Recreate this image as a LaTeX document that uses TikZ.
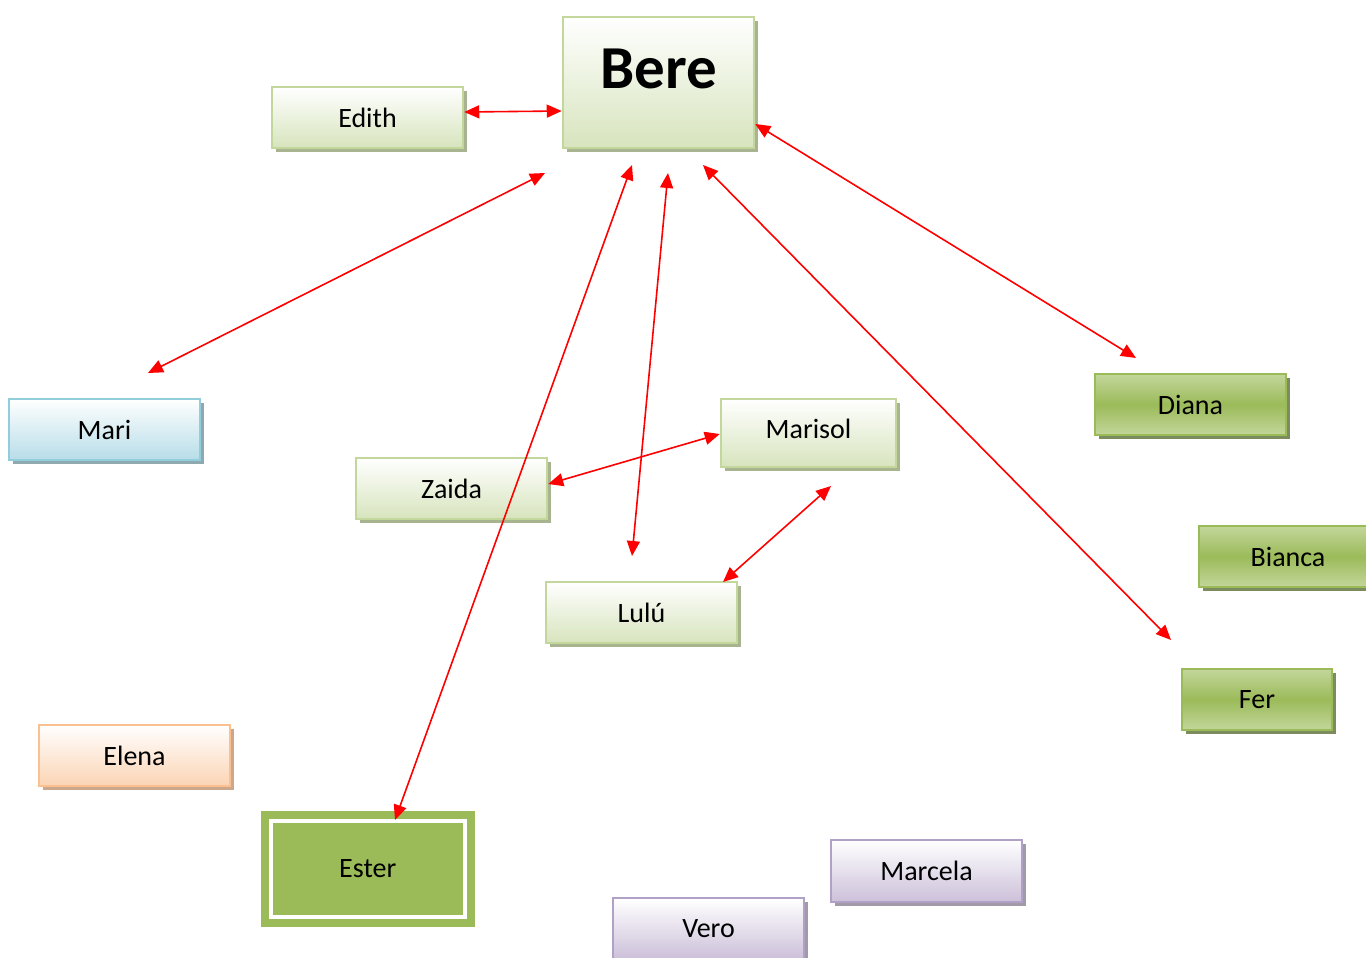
\documentclass[tikz,border=0pt]{standalone}
\usepackage{fontspec}
\setmainfont{Carlito}
\usetikzlibrary{arrows.meta,shadows}
\definecolor{verdeborde}{HTML}{C3D69B}
\definecolor{verdefondo}{HTML}{D7E4BD}
\definecolor{verdesombra}{HTML}{A8B38F}
\definecolor{verdeosc}{HTML}{9BBB59}
\definecolor{verdeoscsombra}{HTML}{7D8C5E}
\definecolor{azulborde}{HTML}{92CDDC}
\definecolor{azulfondo}{HTML}{B7DDE8}
\definecolor{azulsombra}{HTML}{8FA9B1}
\definecolor{naranjaborde}{HTML}{FAC08F}
\definecolor{naranjafondo}{HTML}{FBD4B4}
\definecolor{naranjasombra}{HTML}{CCA78C}
\definecolor{moradoborde}{HTML}{B2A1C7}
\definecolor{moradofondo}{HTML}{CCC0D9}
\definecolor{moradosombra}{HTML}{A19AA9}
\definecolor{rojo}{HTML}{FF0000}
\tikzstyle{caja}=[
	rectangle,
	line width=2.5pt,
	minimum width=191,
	minimum height=61,
	inner sep=0pt,
	font=\fontsize{28}{34}\selectfont]
\tikzstyle{claro}=[
	caja,
	draw=verdeborde,
	top color=white,
	bottom color=verdefondo,
	general shadow={fill=verdesombra,shadow xshift=4pt,shadow yshift=-4pt}]
\tikzstyle{oscuro}=[
	caja,
	draw=verdeosc,
	top color=verdeborde,
	bottom color=verdeborde,
	middle color=verdeosc,
	general shadow={fill=verdeoscsombra,shadow xshift=4pt,shadow yshift=-4pt}]
\tikzstyle{azul}=[
	caja,
	draw=azulborde,
	top color=white,
	bottom color=azulfondo,
	general shadow={fill=azulsombra,shadow xshift=4pt,shadow yshift=-4pt}]
\tikzstyle{naranja}=[
	caja,
	draw=naranjaborde,
	top color=white,
	bottom color=naranjafondo,
	general shadow={fill=naranjasombra,shadow xshift=4pt,shadow yshift=-4pt}]
\tikzstyle{morado}=[
	caja,
	draw=moradoborde,
	top color=white,
	bottom color=moradofondo,
	general shadow={fill=moradosombra,shadow xshift=4pt,shadow yshift=-4pt}]
\tikzstyle{marco}=[
	caja,
	fill=verdeosc,
	draw=white,
	line width=4pt,
	preaction={draw=verdeosc,line width=20pt}]
\tikzstyle{flecha}=[
	draw=rojo,
	line width=1.6pt,
	{Triangle[length=15pt,width=13pt]}-{Triangle[length=15pt,width=13pt]}]

\begin{document}
\begin{tikzpicture}[x=1pt,y=-1pt]
	\useasboundingbox (0,0) rectangle (1366,958);
	% cajas
	\node[claro,minimum height=131,text depth=28pt,font=\fontsize{61}{70}\selectfont\bfseries] (bere) at (658.5,82.5) {Bere};
	\node[claro] (edith) at (367.5,117.5) {Edith};
	\node[azul] (mari) at (104.5,429.5) {Mari};
	\node[claro] (zaida) at (451.5,488.5) {Zaida};
	\node[claro,minimum width=175,minimum height=68,text depth=8pt] (marisol) at (808.5,433) {Marisol};
	\node[claro] (lulu) at (641.5,612.5) {Lulú};
	\node[oscuro] (diana) at (1190.5,404.5) {Diana};
	\node[oscuro,minimum width=178] (bianca) at (1288,556.5) {Bianca};
	\node[oscuro,minimum width=150] (fer) at (1257,699.5) {Fer};
	\node[naranja] (elena) at (134.5,755.5) {Elena};
	\node[marco,minimum width=194.5,minimum height=96] (ester) at (367.75,868.5) {Ester};
	\node[morado,minimum height=62] (marcela) at (926.5,871) {Marcela};
	\node[morado] (vero) at (708.5,928.5) {Vero};
	% puntos libres
	\coordinate (b1) at (545,173);
	\coordinate (b2) at (632,165);
	\coordinate (b3) at (668,173);
	\coordinate (b4) at (703,165);
	\coordinate (mari1) at (148,373);
	\coordinate (ester1) at (395,820);
	\coordinate (lulu1) at (632,556);
	\coordinate (lulu2) at (723,582);
	\coordinate (marisol1) at (831,486);
	\coordinate (diana1) at (1136,358);
	\coordinate (fer1) at (1171,640);
	% flechas
	\draw[flecha] (edith.east |- 0,112) -- (bere.west |- 0,111);
	\draw[flecha] (b1) -- (mari1);
	\draw[flecha] (b2) -- (ester1);
	\draw[flecha] (b3) -- (lulu1);
	\draw[flecha] (b4) -- (fer1);
	\draw[flecha] (bere.east |- 0,124) -- (diana1);
	\draw[flecha] (zaida.east |- 0,484) -- (marisol.west |- 0,434);
	\draw[flecha] (marisol1) -- (lulu2);
\end{tikzpicture}
\end{document}
